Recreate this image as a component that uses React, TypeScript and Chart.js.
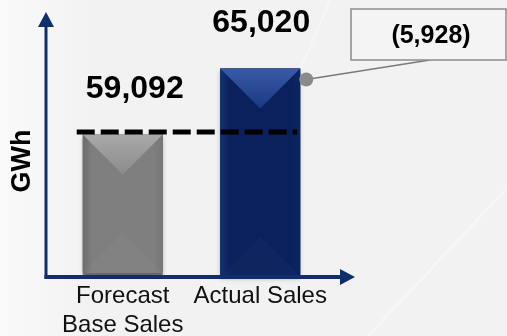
import React, { useEffect, useRef } from 'react';
import { Chart, registerables } from 'chart.js';

Chart.register(...registerables);

// ---- data ----
const categories: (string | string[])[] = [['Forecast', 'Base Sales'], 'Actual Sales'];
const salesValues: number[] = [59092, 65020];
const yAxisTitle = 'GWh';
const yAxisMin = 46300;
const yAxisMax = 70100;

const FONT = '"Liberation Sans", Arial, Helvetica, sans-serif';
const NAVY = '#0f2e6c';

const fmt = (n: number) => Math.round(n).toLocaleString('en-US');
const fmtDiff = (n: number) => (n < 0 ? `(${fmt(-n)})` : fmt(n));

const bgPlugin = {
  id: 'bgPlugin',
  beforeDraw(chart: any) {
    const { ctx, width, height } = chart;
    ctx.save();
    ctx.fillStyle = '#f2f2f2';
    ctx.fillRect(0, 0, width, height);
    const g = ctx.createLinearGradient(0, 0, 90, 0);
    g.addColorStop(0, 'rgba(250,250,250,1)');
    g.addColorStop(1, 'rgba(250,250,250,0)');
    ctx.fillStyle = g;
    ctx.fillRect(0, 0, 90, height);
    ctx.strokeStyle = 'rgba(255,255,255,0.35)';
    ctx.lineWidth = 3;
    ctx.beginPath();
    ctx.moveTo(width, 188);
    ctx.lineTo(368, height);
    ctx.stroke();
    ctx.lineWidth = 2;
    ctx.beginPath();
    ctx.moveTo(330, 0);
    ctx.lineTo(300, 70);
    ctx.stroke();
    ctx.restore();
  },
};

const themes = [
  {
    left: '#6c6c6c', mid: '#7f7f7f', right: '#767676',
    topA: '#a9a9a9', topB: '#8b8b8b', bottom: 'rgba(255,255,255,0.025)', inset: 4,
  },
  {
    left: '#15316f', mid: '#0a215d', right: '#0c2562',
    topA: '#3a5aa6', topB: '#1a3882', bottom: 'rgba(255,255,255,0.02)', inset: 0,
  },
];

const overlayPlugin = {
  id: 'overlayPlugin',
  afterDatasetsDraw(chart: any) {
    const { ctx, chartArea } = chart;
    const yScale = chart.scales.y;
    const meta = chart.getDatasetMeta(0);
    const bars = meta.data.map((b: any) => b.getProps(['x', 'y', 'base', 'width'], true));
    ctx.save();

    // bars with bevel
    bars.forEach((b: any, i: number) => {
      const t = themes[i];
      const l = b.x - b.width / 2;
      const r = b.x + b.width / 2;
      const d = b.width / 2;
      const base = Math.min(b.base, chartArea.bottom) - t.inset;
      ctx.save();
      ctx.shadowColor = 'rgba(0,0,0,0.25)';
      ctx.shadowBlur = 4;
      ctx.shadowOffsetY = 2;
      const hg = ctx.createLinearGradient(l, 0, r, 0);
      hg.addColorStop(0, t.left);
      hg.addColorStop(0.12, t.mid);
      hg.addColorStop(0.88, t.mid);
      hg.addColorStop(1, t.right);
      ctx.fillStyle = hg;
      ctx.fillRect(l, b.y, b.width, base - b.y);
      ctx.restore();
      const tg = ctx.createLinearGradient(0, b.y, 0, b.y + d);
      tg.addColorStop(0, t.topA);
      tg.addColorStop(1, t.topB);
      ctx.fillStyle = tg;
      ctx.beginPath();
      ctx.moveTo(l, b.y);
      ctx.lineTo(r, b.y);
      ctx.lineTo(b.x, b.y + d);
      ctx.closePath();
      ctx.fill();
      ctx.fillStyle = t.bottom;
      ctx.beginPath();
      ctx.moveTo(l, base);
      ctx.lineTo(r, base);
      ctx.lineTo(b.x, base - d);
      ctx.closePath();
      ctx.fill();
    });

    // value labels
    ctx.fillStyle = '#000';
    ctx.font = `bold 32px ${FONT}`;
    ctx.textAlign = 'center';
    ctx.textBaseline = 'middle';
    bars.forEach((b: any, i: number) => {
      ctx.fillText(fmt(salesValues[i]), b.x + (i === 0 ? 12 : 1), b.y - 45);
    });

    // dashed reference line at forecast level
    const yRef = yScale.getPixelForValue(salesValues[0]) - 2.5;
    ctx.strokeStyle = '#000';
    ctx.lineWidth = 5;
    ctx.setLineDash([18, 6]);
    ctx.beginPath();
    ctx.moveTo(bars[0].x - bars[0].width / 2 - 6, yRef);
    ctx.lineTo(bars[1].x + bars[1].width / 2 - 3, yRef);
    ctx.stroke();
    ctx.setLineDash([]);

    // axes with arrows
    const ax = chartArea.left - 8;
    const ay = chartArea.bottom;
    ctx.fillStyle = NAVY;
    ctx.strokeStyle = NAVY;
    ctx.lineWidth = 3;
    ctx.beginPath();
    ctx.moveTo(ax, ay + 2);
    ctx.lineTo(ax, chartArea.top + 12);
    ctx.stroke();
    ctx.beginPath();
    ctx.moveTo(ax, chartArea.top);
    ctx.lineTo(ax + 8, chartArea.top + 15);
    ctx.lineTo(ax - 8, chartArea.top + 15);
    ctx.closePath();
    ctx.fill();
    const xEnd = chartArea.right + 26;
    ctx.lineWidth = 4;
    ctx.beginPath();
    ctx.moveTo(ax - 1.5, ay);
    ctx.lineTo(xEnd - 12, ay);
    ctx.stroke();
    ctx.beginPath();
    ctx.moveTo(xEnd, ay);
    ctx.lineTo(xEnd - 15, ay - 8);
    ctx.lineTo(xEnd - 15, ay + 8);
    ctx.closePath();
    ctx.fill();

    // y-axis title
    ctx.save();
    ctx.translate(22, 161);
    ctx.rotate(-Math.PI / 2);
    ctx.fillStyle = '#000';
    ctx.font = `bold 27px ${FONT}`;
    ctx.textAlign = 'center';
    ctx.textBaseline = 'middle';
    ctx.fillText(yAxisTitle, 0, 1);
    ctx.restore();

    // callout with difference
    const b1 = bars[1];
    const cx = b1.x + b1.width / 2 + 6;
    const cy = b1.y + 11;
    const boxL = 351, boxT = 9, boxR = 506, boxB = 60;
    ctx.strokeStyle = '#7a7a7a';
    ctx.lineWidth = 1.5;
    ctx.beginPath();
    ctx.moveTo(cx, cy);
    ctx.lineTo(430, boxB);
    ctx.stroke();
    ctx.fillStyle = '#8a8a8a';
    ctx.beginPath();
    ctx.arc(cx, cy, 7, 0, Math.PI * 2);
    ctx.fill();
    ctx.fillStyle = '#f4f4f4';
    ctx.fillRect(boxL, boxT, boxR - boxL, boxB - boxT);
    ctx.strokeStyle = '#8c8c8c';
    ctx.lineWidth = 1.5;
    ctx.strokeRect(boxL, boxT, boxR - boxL, boxB - boxT);
    ctx.fillStyle = '#000';
    ctx.font = `bold 25px ${FONT}`;
    ctx.textAlign = 'center';
    ctx.textBaseline = 'middle';
    ctx.fillText(fmtDiff(salesValues[0] - salesValues[1]), 431, 36);

    ctx.restore();
  },
};

export default function App() {
  const ref = useRef<HTMLCanvasElement | null>(null);
  useEffect(() => {
    if (!ref.current) return;
    const chart = new Chart(ref.current, {
      type: 'bar',
      data: {
        labels: categories as any,
        datasets: [
          {
            data: salesValues,
            backgroundColor: ['#7f7f7f', '#0a215d'],
            borderWidth: 0,
            barPercentage: 0.582,
            categoryPercentage: 1,
          },
        ],
      },
      options: {
        animation: false,
        responsive: false,
        devicePixelRatio: 1,
        layout: { padding: { left: 54, right: 178, top: 12, bottom: 0 } },
        plugins: {
          legend: { display: false },
          tooltip: { enabled: false },
        },
        scales: {
          x: {
            display: true,
            grid: { display: false, drawTicks: false },
            border: { display: false },
            ticks: {
              color: '#111',
              font: { family: FONT, size: 24, lineHeight: 1.2 },
              padding: 5,
              maxRotation: 0,
              autoSkip: false,
            },
            afterFit: (s: any) => {
              s.height = 59;
            },
          },
          y: { display: false, min: yAxisMin, max: yAxisMax },
        },
      },
      plugins: [bgPlugin, overlayPlugin],
    });
    return () => chart.destroy();
  }, []);
  return (
    <div style={{ position: 'absolute', left: 0, top: 0, width: 507, height: 336 }}>
      <canvas ref={ref} width={507} height={336} style={{ display: 'block' }} />
    </div>
  );
}
